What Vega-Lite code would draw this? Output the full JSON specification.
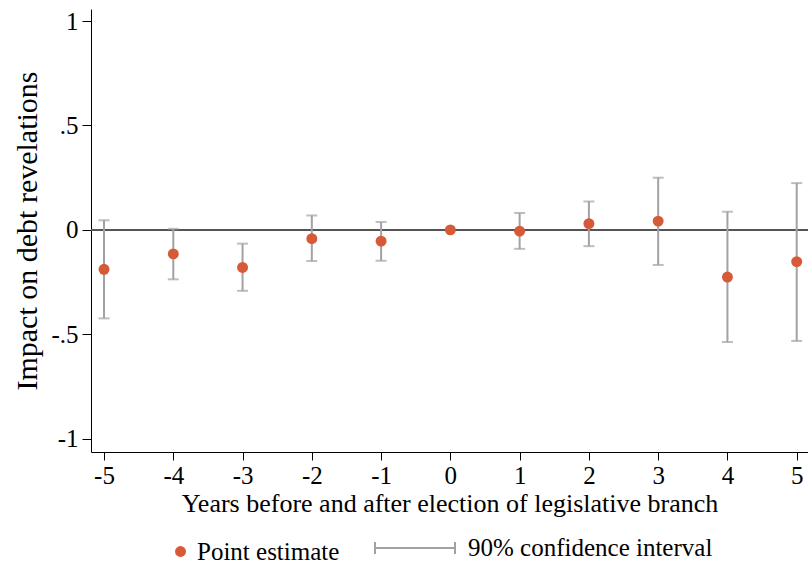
{
  "$schema": "https://vega.github.io/schema/vega-lite/v6.json",
  "width": 717,
  "height": 443,
  "autosize": "none",
  "padding": {"left": 91, "top": 9, "right": 0, "bottom": 111},
  "background": "white",
  "config": {
    "view": {"stroke": null},
    "font": "Liberation Serif",
    "axis": {
      "grid": false,
      "domainColor": "black",
      "tickColor": "black",
      "labelColor": "black",
      "titleColor": "black",
      "labelFont": "Liberation Serif",
      "titleFont": "Liberation Serif",
      "titleFontWeight": "normal",
      "labelFontSize": 25,
      "titleFontSize": 26
    },
    "legend": {
      "labelFont": "Liberation Serif",
      "labelFontSize": 25,
      "labelColor": "black",
      "labelLimit": 400
    }
  },
  "data": {
    "values": [
      {"year": -5, "est": -0.189, "lo": -0.424, "hi": 0.046},
      {"year": -4, "est": -0.115, "lo": -0.237, "hi": 0.005},
      {"year": -3, "est": -0.18, "lo": -0.292, "hi": -0.066},
      {"year": -2, "est": -0.042, "lo": -0.149, "hi": 0.069},
      {"year": -1, "est": -0.054, "lo": -0.148, "hi": 0.038},
      {"year": 0, "est": 0, "lo": null, "hi": null},
      {"year": 1, "est": -0.006, "lo": -0.091, "hi": 0.081},
      {"year": 2, "est": 0.03, "lo": -0.078, "hi": 0.136},
      {"year": 3, "est": 0.042, "lo": -0.168, "hi": 0.25},
      {"year": 4, "est": -0.226, "lo": -0.537, "hi": 0.087},
      {"year": 5, "est": -0.152, "lo": -0.532, "hi": 0.224}
    ]
  },
  "encoding": {
    "x": {
      "field": "year",
      "type": "quantitative",
      "scale": {"domain": [-5.188, 5.163], "nice": false, "zero": false},
      "axis": {
        "values": [-5, -4, -3, -2, -1, 0, 1, 2, 3, 4, 5],
        "labelExpr": "datum.value < 0 ? '-' + format(abs(datum.value), 'd') : format(datum.value, 'd')",
        "labelFont": "Liberation Serif",
        "titleFont": "Liberation Serif",
        "tickSize": 8,
        "labelPadding": 3,
        "title": "Years before and after election of legislative branch",
        "titlePadding": 2
      }
    }
  },
  "layer": [
    {
      "mark": {"type": "rule", "color": "#555555", "strokeWidth": 1.6},
      "encoding": {"y": {"datum": 0, "type": "quantitative"}, "x": null}
    },
    {
      "mark": {"type": "rule", "strokeWidth": 2},
      "encoding": {
        "y": {
          "field": "lo",
          "type": "quantitative",
          "scale": {"domain": [-1.064, 1.058], "nice": false, "zero": false},
          "axis": {
            "values": [-1, -0.5, 0, 0.5, 1],
            "labelExpr": "datum.value == -1 ? '-1' : datum.value == -0.5 ? '-.5' : datum.value == 0.5 ? '.5' : datum.value == 1 ? '1' : '0'",
            "labelFont": "Liberation Serif",
            "titleFont": "Liberation Serif",
            "titleFontSize": 30,
            "tickSize": 9,
            "labelPadding": 4,
            "title": "Impact on debt revelations",
            "titlePadding": 8
          }
        },
        "y2": {"field": "hi"},
        "stroke": {
          "datum": "90% confidence interval",
          "scale": {"range": ["#a3a1a6"]},
          "legend": {
            "title": null,
            "orient": "none",
            "legendX": 283,
            "legendY": 498,
            "symbolType": "M-1,0H1M-1,-0.15V0.15M1,-0.15V0.15",
            "symbolSize": 6400,
            "symbolStrokeWidth": 2,
            "labelOffset": 12
          }
        }
      }
    },
    {
      "mark": {"type": "tick", "orient": "horizontal", "size": 11, "thickness": 2, "color": "#a3a1a6"},
      "encoding": {"y": {"field": "lo", "type": "quantitative"}}
    },
    {
      "mark": {"type": "tick", "orient": "horizontal", "size": 11, "thickness": 2, "color": "#a3a1a6"},
      "encoding": {"y": {"field": "hi", "type": "quantitative"}}
    },
    {
      "mark": {"type": "point", "filled": true, "size": 120, "opacity": 1},
      "encoding": {
        "y": {"field": "est", "type": "quantitative"},
        "color": {
          "datum": "Point estimate",
          "scale": {"range": ["#d65a37"]},
          "legend": {
            "title": null,
            "orient": "none",
            "legendX": 77,
            "legendY": 530,
            "symbolType": "circle",
            "symbolSize": 120,
            "symbolOpacity": 1,
            "labelOffset": 4
          }
        }
      }
    }
  ]
}
